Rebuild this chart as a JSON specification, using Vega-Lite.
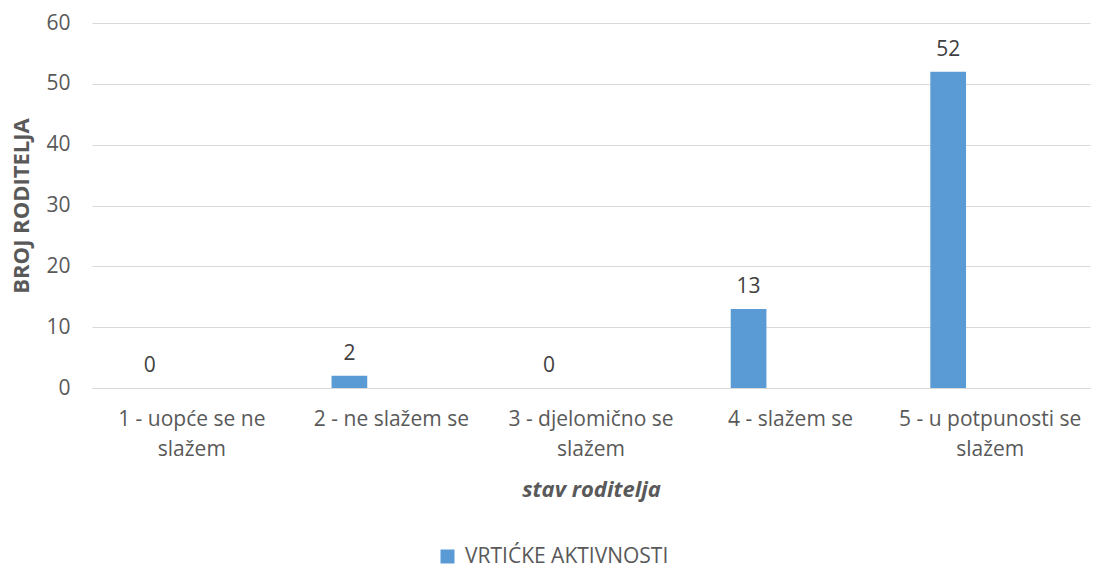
{
  "$schema": "https://vega.github.io/schema/vega-lite/v6.json",
  "width": 998,
  "height": 365,
  "autosize": "none",
  "padding": {"left": 92, "top": 23, "right": 4, "bottom": 179},
  "background": "white",
  "data": {
    "values": [
      {"stav": "1 - uopće se ne slažem", "serija": "VRTIĆKE AKTIVNOSTI", "broj": 0},
      {"stav": "2 - ne slažem se", "serija": "VRTIĆKE AKTIVNOSTI", "broj": 2},
      {"stav": "3 - djelomično se slažem", "serija": "VRTIĆKE AKTIVNOSTI", "broj": 0},
      {"stav": "4 - slažem se", "serija": "VRTIĆKE AKTIVNOSTI", "broj": 13},
      {"stav": "5 - u potpunosti se slažem", "serija": "VRTIĆKE AKTIVNOSTI", "broj": 52}
    ]
  },
  "encoding": {
    "x": {
      "field": "stav",
      "type": "nominal",
      "sort": null,
      "scale": {"paddingInner": 0.4, "paddingOuter": 0.2},
      "axis": {
        "title": "stav roditelja",
        "titleFont": "Open Sans",
        "titleFontSize": 22,
        "titleFontWeight": "bold",
        "titleFontStyle": "italic",
        "titleColor": "#595959",
        "titlePadding": 20,
        "labelAngle": 0,
        "labelFont": "Open Sans",
        "labelFontSize": 21,
        "labelColor": "#595959",
        "labelPadding": 20,
        "labelLineHeight": 30,
        "labelLimit": 0,
        "ticks": false,
        "domain": true,
        "domainColor": "#d9d9d9",
        "domainWidth": 1,
        "grid": false,
        "labelExpr": "datum.value == '1 - uopće se ne slažem' ? ['1 - uopće se ne', 'slažem'] : datum.value == '3 - djelomično se slažem' ? ['3 - djelomično se', 'slažem'] : datum.value == '5 - u potpunosti se slažem' ? ['5 - u potpunosti se', 'slažem'] : datum.value"
      }
    },
    "xOffset": {
      "field": "serija",
      "type": "nominal",
      "scale": {"domain": ["VRTIĆKE AKTIVNOSTI", "_b", "_c"], "paddingInner": 0.15, "paddingOuter": 0}
    },
    "y": {
      "field": "broj",
      "type": "quantitative",
      "scale": {"domain": [0, 60], "nice": false},
      "axis": {
        "title": "BROJ RODITELJA",
        "titleFont": "Open Sans",
        "titleFontSize": 22,
        "titleFontWeight": "bold",
        "titleColor": "#595959",
        "titlePadding": 12,
        "values": [0, 10, 20, 30, 40, 50, 60],
        "labelFont": "Open Sans",
        "labelFontSize": 21,
        "labelColor": "#595959",
        "labelPadding": 22,
        "ticks": false,
        "domain": false,
        "grid": true,
        "gridColor": "#d9d9d9",
        "gridWidth": 1
      }
    }
  },
  "layer": [
    {
      "mark": {"type": "bar", "color": "#5b9bd5"},
      "encoding": {
        "color": {
          "field": "serija",
          "type": "nominal",
          "scale": {"domain": ["VRTIĆKE AKTIVNOSTI"], "range": ["#5b9bd5"]},
          "legend": {
            "title": null,
            "orient": "none",
            "legendX": 345,
            "legendY": 523,
            "direction": "horizontal",
            "symbolType": "square",
            "symbolSize": 196,
            "symbolStrokeWidth": 0,
            "labelFont": "Open Sans",
            "labelFontSize": 21,
            "labelColor": "#595959",
            "labelOffset": 7,
            "labelLimit": 0
          }
        }
      }
    },
    {
      "mark": {
        "type": "text",
        "baseline": "bottom",
        "dy": -12,
        "font": "Open Sans",
        "fontSize": 21,
        "color": "#404040"
      },
      "encoding": {
        "text": {"field": "broj", "type": "quantitative"}
      }
    }
  ],
  "config": {"view": {"stroke": null}}
}
